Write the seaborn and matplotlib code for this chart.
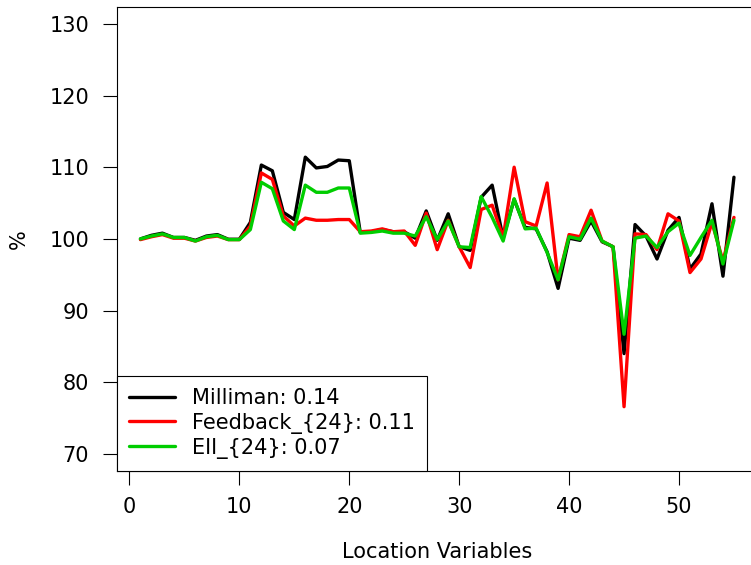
import matplotlib
matplotlib.use("Agg")
import matplotlib.pyplot as plt
import seaborn as sns
import numpy as np
import pandas as pd
from matplotlib.lines import Line2D

locations = list(range(1, 56))

milliman = [100.0, 100.5, 100.8, 100.2, 100.2, 99.8, 100.4, 100.6, 99.95, 99.95,
            102.3, 110.3, 109.5, 103.7, 102.7, 111.4, 109.9, 110.1, 111.0, 110.9,
            100.9, 101.0, 101.3, 101.0, 101.0, 100.1, 103.9, 99.8, 103.5, 98.9,
            98.4, 105.8, 107.5, 100.1, 105.5, 101.6, 101.4, 98.2, 93.1, 100.1,
            99.8, 102.5, 99.6, 98.9, 84.0, 102.0, 100.4, 97.2, 101.2, 103.0,
            95.8, 97.9, 104.9, 94.8, 108.6]

feedback = [99.9, 100.3, 100.6, 100.1, 100.1, 99.7, 100.2, 100.4, 99.9, 99.9,
            101.8, 109.2, 108.3, 103.2, 101.8, 102.9, 102.6, 102.6, 102.7, 102.7,
            101.0, 101.1, 101.4, 101.0, 101.1, 99.1, 103.6, 98.5, 102.6, 98.9,
            96.0, 104.1, 104.7, 100.2, 110.0, 102.4, 101.8, 107.8, 94.3, 100.6,
            100.3, 104.0, 99.7, 98.9, 76.6, 100.7, 100.6, 98.5, 103.5, 102.5,
            95.3, 97.2, 102.3, 96.9, 103.0]

eii = [100.0, 100.4, 100.7, 100.2, 100.2, 99.7, 100.3, 100.5, 99.9, 99.9,
       101.3, 107.9, 107.0, 102.5, 101.3, 107.5, 106.5, 106.5, 107.1, 107.1,
       100.8, 100.9, 101.1, 100.8, 100.8, 100.4, 103.1, 99.9, 102.5, 98.9,
       98.8, 105.9, 103.0, 99.7, 105.6, 101.4, 101.5, 98.1, 94.3, 100.3,
       99.95, 102.9, 99.7, 98.9, 86.7, 100.1, 100.4, 98.8, 101.0, 102.2,
       97.7, 100.2, 102.6, 96.5, 102.6]

series_names = ["Milliman: 0.14", "Feedback_{24}: 0.11", "EII_{24}: 0.07"]
series_colors = ["#000000", "#FF0000", "#00CD00"]
x_ticks = [0, 10, 20, 30, 40, 50]
y_ticks = [70, 80, 90, 100, 110, 120, 130]

df = pd.DataFrame({
    "Location": locations * 3,
    "value": milliman + feedback + eii,
    "series": [series_names[0]] * 55 + [series_names[1]] * 55 + [series_names[2]] * 55,
})

sns.set_style("ticks")
plt.rcParams["font.family"] = ["DejaVu Sans"]
plt.rcParams["text.color"] = "black"
plt.rcParams["axes.labelcolor"] = "black"

FS = 15
W, H = 751, 565
fig = plt.figure(figsize=(W / 100, H / 100), dpi=100)
left_px, right_px, top_px, bot_px = 116.7, 757.7, 6.6, 471.2
ax = fig.add_axes([left_px / W, 1 - bot_px / H, (right_px - left_px) / W, (bot_px - top_px) / H])

sns.lineplot(data=df, x="Location", y="value", hue="series",
             palette=dict(zip(series_names, series_colors)),
             hue_order=series_names, linewidth=2.4, ax=ax, legend=False)

ax.set_xlim(1 - 0.04 * 54, 55 + 0.04 * 54)
ax.set_ylim(70 - 0.04 * 60, 130 + 0.04 * 60)
ax.set_xticks(x_ticks)
ax.set_yticks(y_ticks)
ax.tick_params(axis="both", direction="out", length=10.4, width=0.8,
               labelsize=FS, colors="black")
ax.tick_params(axis="y", pad=9.5)
ax.tick_params(axis="x", pad=8.5)
for sp in ax.spines.values():
    sp.set_visible(True)
    sp.set_linewidth(0.8)
    sp.set_color("black")

ax.set_xlabel("Location Variables", fontsize=FS, color="black")
ax.set_ylabel("%", fontsize=FS, color="black")
ax.xaxis.set_label_coords(0.5, (bot_px - 552) / (bot_px - top_px))
ax.xaxis.label.set_va("center")
ax.yaxis.set_label_coords((19 - left_px) / (right_px - left_px), 0.5)
ax.yaxis.label.set_va("center")

handles = [Line2D([0], [0], color=c, lw=2.4) for c in series_colors]
leg = ax.legend(handles, series_names, loc="lower left", bbox_to_anchor=(0, 0),
                borderaxespad=0, fontsize=FS, frameon=True, fancybox=False,
                framealpha=1, edgecolor="black", handlelength=2.2,
                handletextpad=0.8, labelspacing=0.2, borderpad=0.6,
                labelcolor="black")
leg.get_frame().set_linewidth(0.8)

fig.savefig("out.png", dpi=100)
